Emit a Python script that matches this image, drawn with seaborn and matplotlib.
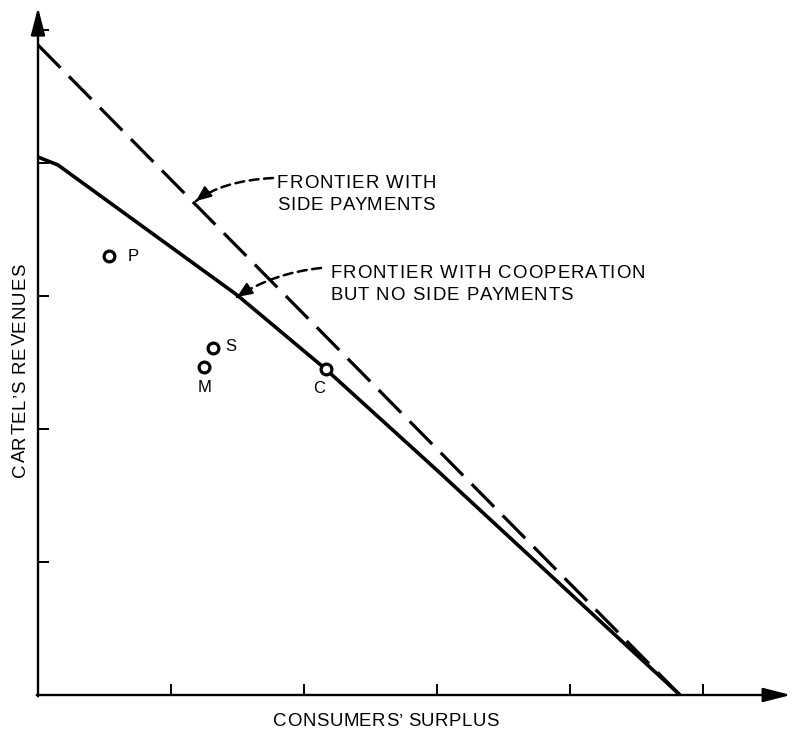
import numpy as np
import pandas as pd
import matplotlib
matplotlib.use("Agg")
import matplotlib.pyplot as plt
from matplotlib.font_manager import FontProperties
import seaborn as sns

# ---- data (in axis units; 1 unit = one tick interval) ----
side_x = [0.0, 4.827]
side_y = [4.887, 0.0]
coop_x = [0.0, 0.15, 1.496, 2.163, 3.0, 4.827]
coop_y = [4.045, 3.985, 3.008, 2.45, 1.69, 0.0]
pt_names = ["P", "S", "M", "C"]
pt_x = [0.536, 1.318, 1.250, 2.163]
pt_y = [3.30, 2.607, 2.469, 2.45]
x_ticks = [1, 2, 3, 4, 5]
y_ticks = [1, 2, 3, 4, 5]

sns.set_theme(style="white")
plt.rcParams["font.family"] = ["Liberation Sans", "DejaVu Sans"]
plt.rcParams["text.color"] = "black"

W, H = 796, 730
fig = plt.figure(figsize=(W / 100, H / 100), dpi=100)
ox, oy, s = 38, 695, 133.0
xmax, ymax = 5.75, 5.2
ax = fig.add_axes([ox / W, (H - oy) / H, xmax * s / W, ymax * s / H])
ax.set_xlim(0, xmax)
ax.set_ylim(0, ymax)
for sp in ax.spines.values():
    sp.set_visible(False)

side_df = pd.DataFrame({"x": side_x, "y": side_y})
coop_df = pd.DataFrame({"x": coop_x, "y": coop_y})
pts_df = pd.DataFrame({"x": pt_x, "y": pt_y, "name": pt_names})

sns.lineplot(data=side_df, x="x", y="y", ax=ax, color="black", lw=2.3,
             linestyle=(0, (10.0, 3.8)), sort=False, clip_on=False)
sns.lineplot(data=coop_df, x="x", y="y", ax=ax, color="black", lw=2.6,
             sort=False, clip_on=False, solid_capstyle="butt",
             solid_joinstyle="round")
sns.scatterplot(data=pts_df, x="x", y="y", ax=ax, s=60, facecolor="white",
                edgecolor="black", linewidth=2.3, zorder=5, clip_on=False)

# axes with arrows
arr = dict(arrowstyle="-|>,head_length=1.4,head_width=0.36", lw=1.7,
           color="black", shrinkA=0, shrinkB=0)
ax.annotate("", xy=(5.66, 0), xytext=(-0.01, 0), arrowprops=arr, annotation_clip=False)
ax.annotate("", xy=(0, 5.17), xytext=(0, -0.01), arrowprops=arr, annotation_clip=False)

ax.set_xticks(x_ticks)
ax.set_yticks(y_ticks)
ax.tick_params(axis="both", direction="in", length=8, width=1.4, color="black",
               labelbottom=False, labelleft=False, bottom=True, left=True)
ax.set_xlabel("")
ax.set_ylabel("")

# point labels
offs = {"P": (13.5, 0, "left"), "S": (8.4, 1.4, "left"),
        "M": (0, -15, "center"), "C": (-5, -13.7, "center")}
for n, x, y in zip(pt_names, pt_x, pt_y):
    dx, dy, ha = offs[n]
    ax.annotate(n, (x, y), xytext=(dx, dy), textcoords="offset points",
                ha=ha, va="center", fontsize=12)

fs = 13.4
fp = FontProperties(family=["Liberation Sans", "DejaVu Sans"], size=fs)
renderer = fig.canvas.get_renderer()


def textw(t):
    if not t:
        return 0.0
    w1 = renderer.get_text_width_height_descent(t + "X", fp, ismath=False)[0]
    w2 = renderer.get_text_width_height_descent("X", fp, ismath=False)[0]
    return w1 - w2


def tracked(xd, yd, t, width_px, vertical=False, center=False):
    """Draw text with letter spacing so that it spans width_px pixels."""
    nat = renderer.get_text_width_height_descent(t, fp, ismath=False)[0]
    trk = (width_px - nat) / max(len(t) - 1, 1)
    start = -width_px / 2 if center else 0.0
    for i, c in enumerate(t):
        if c == " ":
            continue
        off = (start + textw(t[:i]) + i * trk) * 0.72
        xy = (0, off) if vertical else (off, 0)
        ax.annotate(c, (xd, yd), xytext=xy,
                    textcoords="offset points", ha="left", va="baseline",
                    rotation=90 if vertical else 0, rotation_mode="anchor",
                    fontproperties=fp, annotation_clip=False)


def px(xp, yp):
    return ((xp - ox) / s, (oy - yp) / s)


tracked(*px(277, 188), "FRONTIER WITH", 159)
tracked(*px(277, 210), "SIDE PAYMENTS", 158)
tracked(*px(330, 278), "FRONTIER WITH COOPERATION", 315)
tracked(*px(330, 300), "BUT NO SIDE PAYMENTS", 243)
tracked(*px(386, 726), "CONSUMERS\u2019 SURPLUS", 225, center=True)
tracked(*px(25, 370), "CARTEL\u2019S REVENUES", 214, vertical=True, center=True)

# dashed curved pointer arrows with solid heads
darr = dict(arrowstyle="-", lw=1.8, color="black", shrinkA=0, shrinkB=0,
            linestyle=(0, (3.6, 2.2)))
harr = dict(arrowstyle="-|>,head_length=0.75,head_width=0.32", lw=1.6,
            color="black", shrinkA=0, shrinkB=0)
for (tip, start, a_a, a_b) in [((196, 201), (273, 178), 3, 38),
                               ((237, 297), (321, 268), 6, 34)]:
    t = px(*tip)
    ax.annotate("", xy=t, xytext=px(*start),
                arrowprops=dict(darr, connectionstyle=f"angle3,angleA={a_a},angleB={a_b}"))
    d = 9 / s
    back = (t[0] + d * np.cos(np.radians(a_b)), t[1] + d * np.sin(np.radians(a_b)))
    ax.annotate("", xy=t, xytext=back, arrowprops=harr)

fig.savefig("out.png", dpi=100)
